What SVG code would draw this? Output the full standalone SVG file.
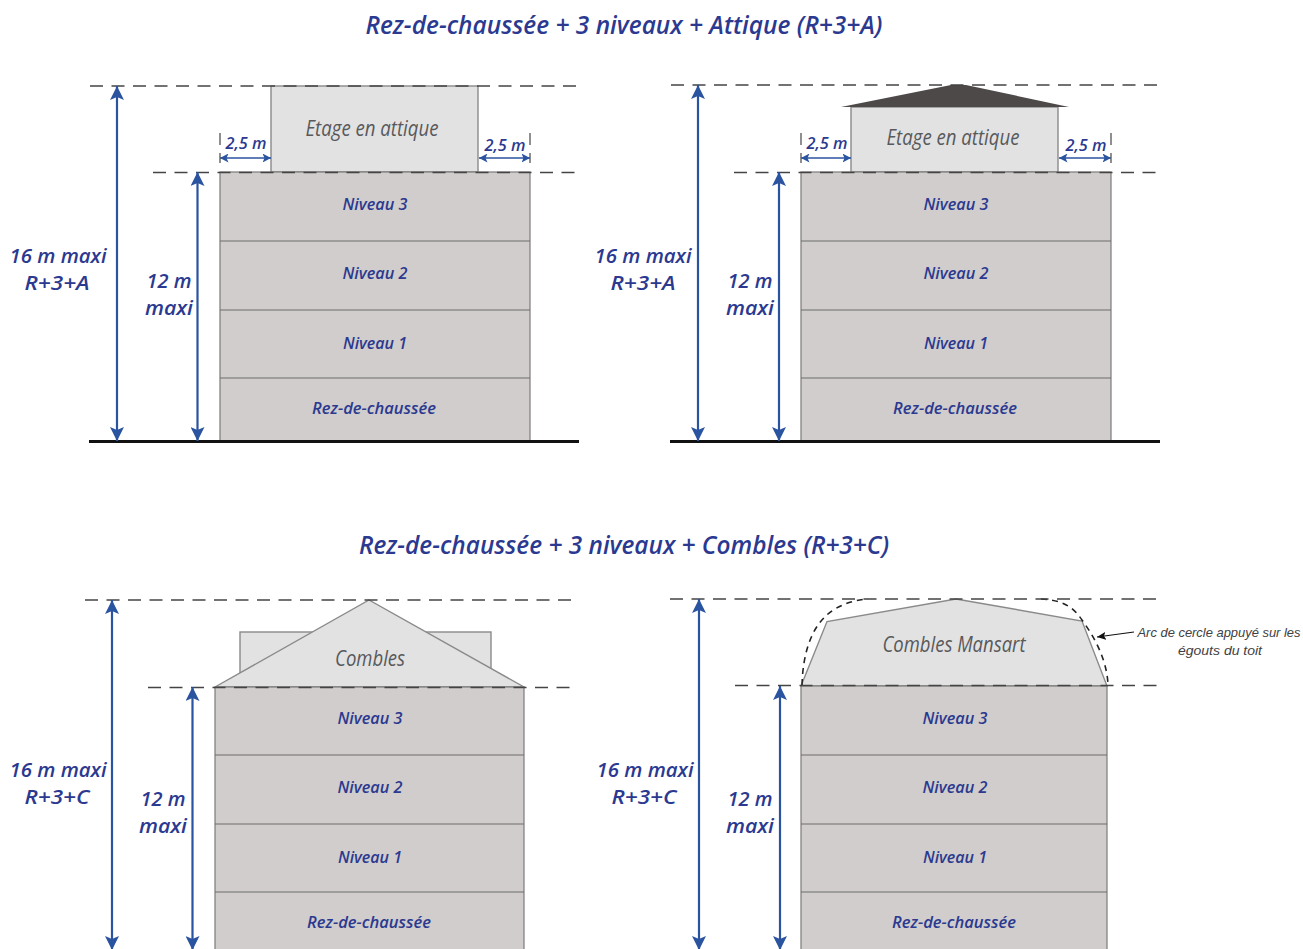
<svg xmlns="http://www.w3.org/2000/svg" width="1303" height="949" viewBox="0 0 1303 949">
<style>
text{font-family:"Open Sans","Noto Sans","Liberation Sans",sans-serif;font-style:italic;text-anchor:middle}
.t{font-size:25px;font-weight:600;fill:#2b3990}
.d{font-size:20px;font-weight:600;fill:#2b3990}
.n{font-size:16px;font-weight:600;fill:#2b3990}
.s{font-size:16px;font-weight:600;fill:#2b3990}
.g{font-size:22px;font-weight:400;fill:#58595b}
text.a{font-family:"Liberation Sans",sans-serif;font-size:13px;font-weight:400;fill:#414042}
.dash{fill:none;stroke:#444;stroke-width:1.5;stroke-dasharray:13 8.500}
.b{fill:#d0cdcc;stroke:#7d7b7a;stroke-width:1.2}
.l{fill:#e2e2e3;stroke:#8a8a8a;stroke-width:1.4}
.f{fill:none;stroke:#6f6d6c;stroke-width:1.2}
.v{fill:none;stroke:#2a53a0;stroke-width:2.2;marker-start:url(#ah);marker-end:url(#ah)}
.h{fill:none;stroke:#2a53a0;stroke-width:1.3;marker-start:url(#as);marker-end:url(#as)}
.tick{stroke:#555;stroke-width:1.3}
.g0{stroke:#111;stroke-width:3}
</style>
<defs>
<marker id="ah" viewBox="0 0 15 14" markerUnits="userSpaceOnUse" markerWidth="15" markerHeight="14" refX="14" refY="7" orient="auto-start-reverse"><path d="M0 0L14 7L0 14L3 7Z" fill="#2a53a0"/></marker>
<marker id="as" viewBox="0 0 9 9" markerUnits="userSpaceOnUse" markerWidth="9" markerHeight="9" refX="8.500" refY="4.500" orient="auto-start-reverse"><path d="M0 0L8.500 4.500L0 9L2 4.500Z" fill="#2a53a0"/></marker>
<marker id="ak" viewBox="0 0 10 8" markerUnits="userSpaceOnUse" markerWidth="10" markerHeight="8" refX="9" refY="4" orient="auto"><path d="M0 0L9 4L0 8L2 4Z" fill="#111"/></marker>
</defs>
<text class="t" x="624" y="34" textLength="517" lengthAdjust="spacingAndGlyphs">Rez-de-chaussée + 3 niveaux + Attique (R+3+A)</text>
<text class="t" x="624" y="554" textLength="530" lengthAdjust="spacingAndGlyphs">Rez-de-chaussée + 3 niveaux + Combles (R+3+C)</text>

<g id="building-a1">
<rect class="l" x="271" y="86" width="207" height="86"/>
<rect class="b" x="220" y="172" width="310" height="269"/>
<path class="f" d="M220 241H530M220 310H530M220 378H530"/>
<text class="g" x="372" y="136" textLength="133" lengthAdjust="spacingAndGlyphs">Etage en attique</text>
<text class="n" x="375" y="210" textLength="65" lengthAdjust="spacingAndGlyphs">Niveau 3</text>
<text class="n" x="375" y="279" textLength="65" lengthAdjust="spacingAndGlyphs">Niveau 2</text>
<text class="n" x="375" y="349" textLength="64" lengthAdjust="spacingAndGlyphs">Niveau 1</text>
<text class="n" x="374" y="414" textLength="124" lengthAdjust="spacingAndGlyphs">Rez-de-chaussée</text>
</g>
<g id="building-a2">
<rect class="l" x="851" y="107" width="207" height="65"/>
<path d="M841 107L951 85H966L1069 107Z" fill="#4d4948"/>
<rect class="b" x="801" y="172" width="310" height="269"/>
<path class="f" d="M801 241H1111M801 310H1111M801 378H1111"/>
<text class="g" x="953" y="145" textLength="133" lengthAdjust="spacingAndGlyphs">Etage en attique</text>
<text class="n" x="956" y="210" textLength="65" lengthAdjust="spacingAndGlyphs">Niveau 3</text>
<text class="n" x="956" y="279" textLength="65" lengthAdjust="spacingAndGlyphs">Niveau 2</text>
<text class="n" x="956" y="349" textLength="64" lengthAdjust="spacingAndGlyphs">Niveau 1</text>
<text class="n" x="955" y="414" textLength="124" lengthAdjust="spacingAndGlyphs">Rez-de-chaussée</text>
</g>
<g id="building-c1">
<rect class="l" x="240" y="632" width="251" height="60"/>
<path class="l" d="M215 687L369 600L524 687Z"/>
<rect class="b" x="215" y="687" width="309" height="270"/>
<path class="f" d="M215 755H524M215 824H524M215 892H524"/>
<text class="g" x="370" y="666" textLength="70" lengthAdjust="spacingAndGlyphs">Combles</text>
<text class="n" x="370" y="724" textLength="65" lengthAdjust="spacingAndGlyphs">Niveau 3</text>
<text class="n" x="370" y="793" textLength="65" lengthAdjust="spacingAndGlyphs">Niveau 2</text>
<text class="n" x="370" y="863" textLength="64" lengthAdjust="spacingAndGlyphs">Niveau 1</text>
<text class="n" x="369" y="928" textLength="124" lengthAdjust="spacingAndGlyphs">Rez-de-chaussée</text>
</g>
<g id="building-c2">
<path class="l" d="M801 686L827 621.500L956 599L1082 621L1107 686Z"/>
<rect class="b" x="801" y="686" width="306" height="271"/>
<path class="f" d="M801 755H1107M801 824H1107M801 892H1107"/>
<path d="M802 685C803 650 813 622 835 609C845 603 855 600 868 599M1041 599C1060 600 1072 605 1082 620C1095 638 1107 660 1108 685" fill="none" stroke="#222" stroke-width="1.6" stroke-dasharray="6 5"/>
<text class="g" x="954" y="652" textLength="143" lengthAdjust="spacingAndGlyphs">Combles Mansart</text>
<text class="n" x="955" y="724" textLength="65" lengthAdjust="spacingAndGlyphs">Niveau 3</text>
<text class="n" x="955" y="793" textLength="65" lengthAdjust="spacingAndGlyphs">Niveau 2</text>
<text class="n" x="955" y="863" textLength="64" lengthAdjust="spacingAndGlyphs">Niveau 1</text>
<text class="n" x="954" y="928" textLength="124" lengthAdjust="spacingAndGlyphs">Rez-de-chaussée</text>
</g>

<g id="connectors">
<path class="dash" d="M90 86H580M153 172.500H580M671 85H1160M734 172.500H1160M85 600H575M148 687.500H575M670 599H1157M735 685.500H1157"/>
<path class="g0" d="M89 441.500H579M670 441.500H1160"/>
<path class="v" d="M117 86V441"/>
<path class="v" d="M197.500 172V441"/>
<path class="v" d="M698 85V441"/>
<path class="v" d="M779 172V441"/>
<path class="v" d="M112 600V950"/>
<path class="v" d="M192.500 687V950"/>
<path class="v" d="M699 599V950"/>
<path class="v" d="M780 686V950"/>
<path class="h" d="M220 158H271"/>
<path class="h" d="M479 158H530"/>
<path class="h" d="M801 158H851"/>
<path class="h" d="M1059 158H1111"/>
<path class="tick" d="M220 133V145M220 153V163M530 133V145M530 153V163M801 133V145M801 153V163M1111 133V145M1111 153V163"/>
<path d="M1134 632L1097 637" fill="none" stroke="#111" stroke-width="1.2" marker-end="url(#ak)"/>
</g>

<g id="labels">
<text class="d" x="58" y="263" textLength="97" lengthAdjust="spacingAndGlyphs">16 m maxi</text>
<text class="d" x="57" y="290" textLength="65" lengthAdjust="spacingAndGlyphs">R+3+A</text>
<text class="d" x="169" y="288" textLength="45" lengthAdjust="spacingAndGlyphs">12 m</text>
<text class="d" x="169" y="315" textLength="48" lengthAdjust="spacingAndGlyphs">maxi</text>
<text class="d" x="643" y="263" textLength="97" lengthAdjust="spacingAndGlyphs">16 m maxi</text>
<text class="d" x="643" y="290" textLength="65" lengthAdjust="spacingAndGlyphs">R+3+A</text>
<text class="d" x="750" y="288" textLength="45" lengthAdjust="spacingAndGlyphs">12 m</text>
<text class="d" x="750" y="315" textLength="48" lengthAdjust="spacingAndGlyphs">maxi</text>
<text class="d" x="58" y="777" textLength="97" lengthAdjust="spacingAndGlyphs">16 m maxi</text>
<text class="d" x="57" y="804" textLength="65" lengthAdjust="spacingAndGlyphs">R+3+C</text>
<text class="d" x="163" y="806" textLength="45" lengthAdjust="spacingAndGlyphs">12 m</text>
<text class="d" x="163" y="833" textLength="48" lengthAdjust="spacingAndGlyphs">maxi</text>
<text class="d" x="645" y="777" textLength="97" lengthAdjust="spacingAndGlyphs">16 m maxi</text>
<text class="d" x="644" y="804" textLength="65" lengthAdjust="spacingAndGlyphs">R+3+C</text>
<text class="d" x="750" y="806" textLength="45" lengthAdjust="spacingAndGlyphs">12 m</text>
<text class="d" x="750" y="833" textLength="48" lengthAdjust="spacingAndGlyphs">maxi</text>
<text class="s" x="246" y="149" textLength="41" lengthAdjust="spacingAndGlyphs">2,5 m</text>
<text class="s" x="505" y="151" textLength="41" lengthAdjust="spacingAndGlyphs">2,5 m</text>
<text class="s" x="827" y="149" textLength="41" lengthAdjust="spacingAndGlyphs">2,5 m</text>
<text class="s" x="1086" y="151" textLength="41" lengthAdjust="spacingAndGlyphs">2,5 m</text>
<text class="a" x="1219" y="637" textLength="163" lengthAdjust="spacingAndGlyphs">Arc de cercle appuyé sur les</text>
<text class="a" x="1220" y="655" textLength="84" lengthAdjust="spacingAndGlyphs">égouts du toit</text>
</g>
</svg>
